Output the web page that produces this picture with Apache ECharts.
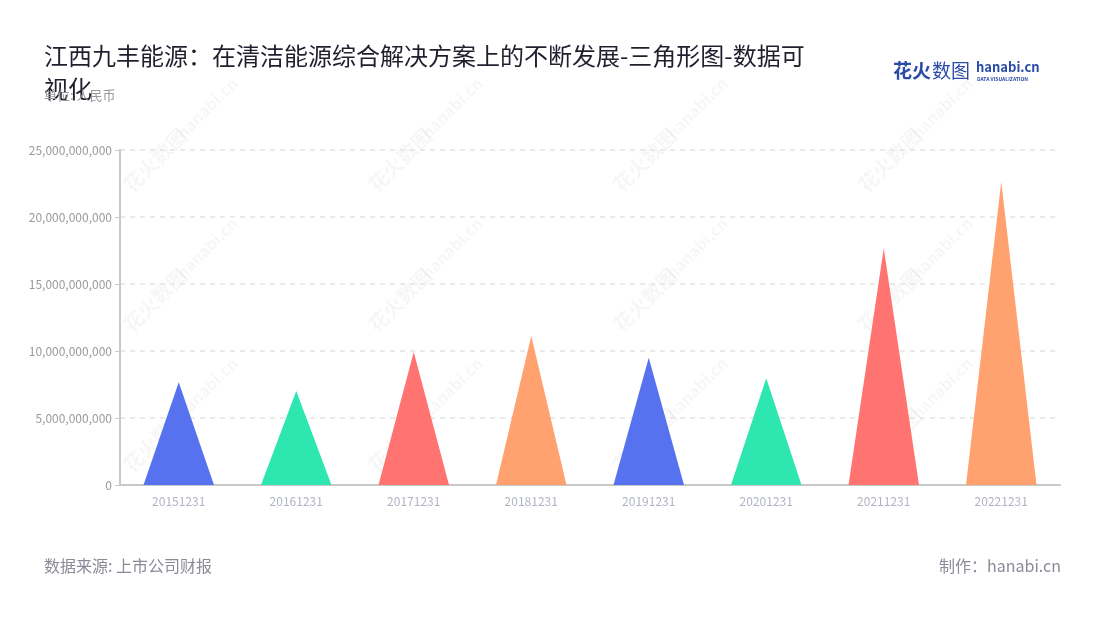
<!DOCTYPE html>
<html>
<head>
<meta charset="utf-8">
<script src="https://cdn.jsdelivr.net/npm/echarts@6/dist/echarts.min.js"></script>
<style>html,body{margin:0;padding:0;background:#fff;}#main{width:1100px;height:620px;}</style>
</head>
<body>
<div id="main"></div>
<script>
var categories = ['20151231','20161231','20171231','20181231','20191231','20201231','20211231','20221231'];
var values = [7660000000, 7010000000, 9930000000, 11120000000, 9500000000, 7960000000, 17660000000, 22630000000];
var yTicks = [0, 5000000000, 10000000000, 15000000000, 20000000000, 25000000000];
var palette = ['#5672EF', '#2DE6B0', '#FF7470', '#FFA26F'];

var titleText = '江西九丰能源：在清洁能源综合解决方案上的不断发展-三角形图-数据可视化';
var subText = '单位: 人民币';
var sourceText = '数据来源: 上市公司财报';
var makerText = '制作：hanabi.cn';

var FONT = '"Noto Sans CJK SC", "Noto Sans", sans-serif';

var chart = echarts.init(document.getElementById('main'), null, {renderer: 'canvas'});

// faint diagonal watermark
var wm = [];
var cols = [155, 400, 645, 890];
var rows = [160, 300, 440];
rows.forEach(function (ry) {
  cols.forEach(function (cx) {
    wm.push({
      type: 'text', x: cx, y: ry, rotation: Math.PI / 4, silent: true, z: 0,
      style: {text: '花火数图', font: 'bold 20px ' + FONT, fill: 'rgba(0,0,0,0.035)', align: 'center', verticalAlign: 'middle'}
    });
    wm.push({
      type: 'text', x: cx + 52, y: ry - 52, rotation: Math.PI / 4, silent: true, z: 0,
      style: {text: 'hanabi.cn', font: 'bold 16px ' + FONT, fill: 'rgba(0,0,0,0.035)', align: 'center', verticalAlign: 'middle'}
    });
  });
});

var option = {
  backgroundColor: '#fff',
  animation: false,
  title: [{
    text: titleText,
    left: 39, top: 34,
    textStyle: {fontSize: 24, fontWeight: 'normal', color: '#1f1f2e', fontFamily: FONT, width: 772, overflow: 'break', lineHeight: 33}
  }, {
    text: subText,
    left: 39, top: 84,
    textStyle: {fontSize: 13, fontWeight: 'normal', color: '#999', fontFamily: FONT}
  }],
  grid: {left: 120, right: 40, top: 150, bottom: 135, containLabel: false},
  xAxis: {
    type: 'category',
    data: categories,
    axisLine: {lineStyle: {color: '#c8c8c8', width: 2}},
    axisTick: {alignWithLabel: true, lineStyle: {color: '#c8c8c8'}},
    axisLabel: {color: '#b0b4c4', fontSize: 12, fontFamily: FONT, margin: 10}
  },
  yAxis: {
    type: 'value',
    min: 0, max: 25000000000, interval: 5000000000,
    axisLine: {show: true, lineStyle: {color: '#c8c8c8', width: 2}},
    axisTick: {show: true, lineStyle: {color: '#c8c8c8'}},
    axisLabel: {
      color: '#9a9a9a', fontSize: 12, fontFamily: FONT,
      formatter: function (v) { return yTicks.indexOf(v) >= 0 ? echarts.format.addCommas(v) : ''; }
    },
    splitLine: {lineStyle: {color: '#e3e3e3', type: [5, 5], width: 1.5}}
  },
  series: [{
    type: 'pictorialBar',
    symbol: 'triangle',
    barCategoryGap: '40%',
    z: 5,
    data: values.map(function (v, i) {
      return {value: v, itemStyle: {color: palette[i % palette.length]}};
    })
  }],
  graphic: wm.concat([
    {type: 'text', left: 44, top: 558, style: {text: sourceText, font: '16px ' + FONT, fill: '#8a8a98'}},
    {type: 'text', right: 39, top: 558, style: {text: makerText, font: '16px ' + FONT, fill: '#8a8a98'}},
    {type: 'text', left: 893, top: 61, style: {text: '花火', font: 'bold 19px ' + FONT, fill: '#2a4ba8'}},
    {type: 'text', left: 932, top: 61, style: {text: '数图', font: '19px ' + FONT, fill: '#2a4ba8'}},
    {type: 'text', left: 976, top: 61, style: {text: 'hanabi.cn', font: 'bold 13px ' + FONT, fill: '#2a4ba8'}},
    {type: 'text', left: 977, top: 77, style: {text: 'DATA VISUALIZATION', font: 'bold 5px ' + FONT, fill: '#2a4ba8'}}
  ])
};
chart.setOption(option);
</script>
</body>
</html>
